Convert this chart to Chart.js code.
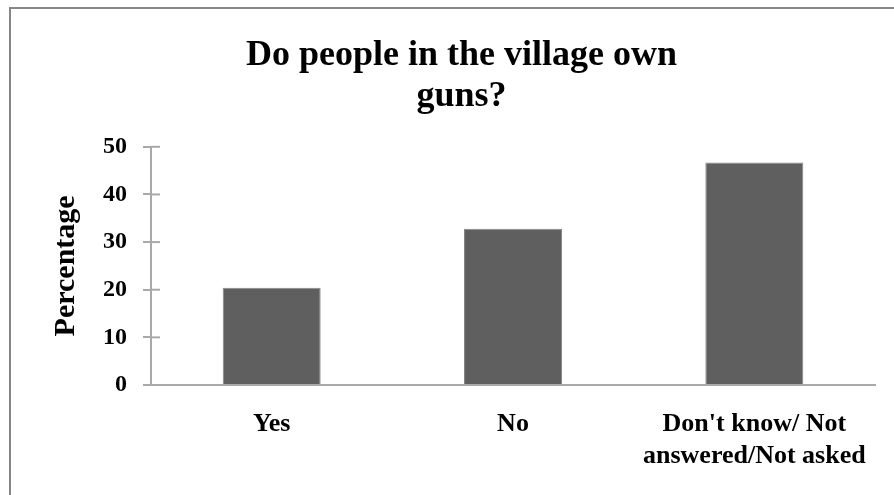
<html>
<head>
<script src="https://cdn.jsdelivr.net/npm/chart.js@4.4.0/dist/chart.umd.min.js"></script>
<style>
  body { margin: 0; overflow: hidden; background: white; }
  #frame {
    position: absolute; left: 9px; top: 7px;
    width: 1000px; height: 1000px;
    border: 2px solid #878787;
  }
  #wrap { position: absolute; left: 0; top: 0; width: 894px; height: 495px; }
</style>
</head>
<body>
<div id="frame"></div>
<div id="wrap"><canvas id="gunsChart" width="894" height="495"></canvas></div>

<script>
  // chart data
  var categories = ["Yes", "No", ["Don't know/ Not", "answered/Not asked"]];
  var percentages = [20.4, 32.8, 46.7];
  var yTicks = [0, 10, 20, 30, 40, 50];

  var axisGray = "#a9a9a9";
  var serif = "'Liberation Serif', 'Times New Roman', serif";

  // the y ticks in the reference cross the axis, chart.js only draws the outer half
  var innerTicks = {
    id: "innerTicks",
    afterDraw: function(chart) {
      var ctx = chart.ctx;
      var yScale = chart.scales.y;
      var left = chart.chartArea.left;
      ctx.save();
      ctx.strokeStyle = axisGray;
      ctx.lineWidth = 2;
      yTicks.forEach(function(v) {
        var y = yScale.getPixelForValue(v);
        ctx.beginPath();
        ctx.moveTo(left, y);
        ctx.lineTo(left + 9, y);
        ctx.stroke();
      });
      ctx.restore();
    }
  };

  var ctx = document.getElementById("gunsChart");
  var gunsChart = new Chart(ctx, {
    type: "bar",
    data: {
      labels: categories,
      datasets: [
        {
          label: "Percentage",
          data: percentages,
          backgroundColor: "#5f5f5f",
          borderColor: "#858585",
          borderWidth: 1,
          barPercentage: 0.406,
          categoryPercentage: 1.0
        }
      ]
    },
    options: {
      responsive: false,
      animation: false,
      layout: { padding: { left: 48, right: 19, top: 0, bottom: 0 } },
      plugins: {
        legend: { display: false },
        tooltip: { enabled: false },
        title: {
          display: true,
          text: ["Do people in the village own", "guns?"],
          color: "#000",
          font: { family: serif, size: 36, weight: "bold", lineHeight: 1.15 },
          padding: { top: 35, bottom: 29 }
        }
      },
      scales: {
        x: {
          grid: { drawOnChartArea: false, drawTicks: false },
          border: { display: true, color: axisGray, width: 2 },
          ticks: {
            color: "#000",
            padding: 23,
            maxRotation: 0,
            font: { family: serif, size: 26, weight: "bold", lineHeight: 1.25 }
          },
          afterFit: function(scale) { scale.height = 110; }
        },
        y: {
          min: 0,
          max: 50,
          ticks: {
            stepSize: 10,
            color: "#000",
            padding: 16,
            font: { family: serif, size: 24, weight: "bold" }
          },
          grid: { drawOnChartArea: false, drawTicks: true, tickLength: 8, color: axisGray, lineWidth: 2 },
          border: { display: true, color: axisGray, width: 2 },
          title: {
            display: true,
            text: "Percentage",
            color: "#000",
            padding: 0,
            font: { family: serif, size: 30, weight: "bold", lineHeight: 1.2 }
          },
          afterFit: function(scale) { scale.width = 103; }
        }
      }
    },
    plugins: [innerTicks]
  });
</script>
</body>
</html>
